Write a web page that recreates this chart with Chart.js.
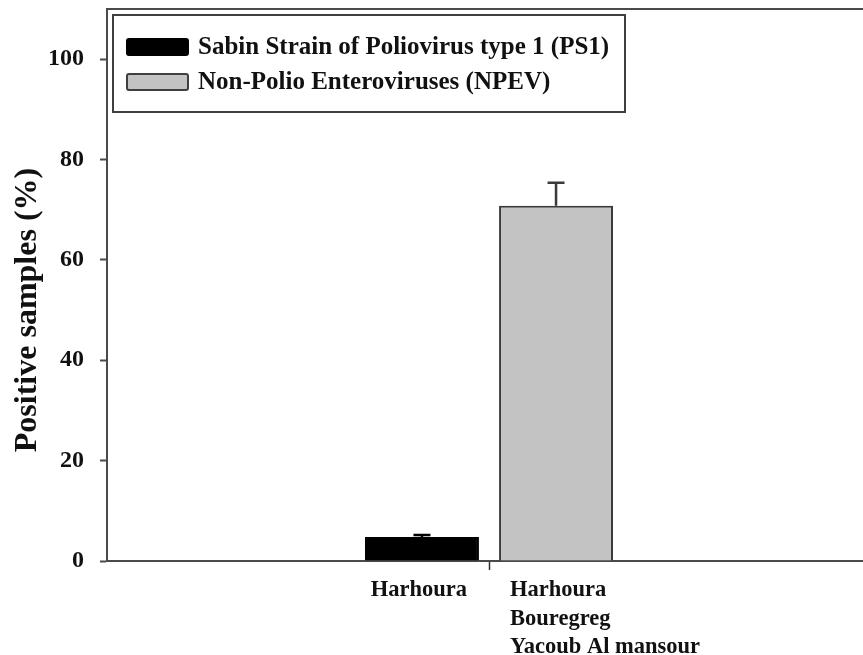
<!DOCTYPE html>
<html>
<head>
<meta charset="utf-8">
<script src="https://cdn.jsdelivr.net/npm/chart.js@4/dist/chart.umd.min.js"></script>
<style>
html,body{margin:0;padding:0;background:#fff;overflow:hidden;width:863px;height:655px;}
#wrap{position:relative;width:880px;height:655px;}
</style>
</head>
<body>
<div id="wrap"><canvas id="c" width="880" height="655"></canvas></div>
<script>
// ---- data ----
const categories = ['Sites'];
const seriesNames = ['Sabin Strain of Poliovirus type 1 (PS1)', 'Non-Polio Enteroviruses (NPEV)'];
const ps1Values = [4.8];
const ps1Errors = [0.4];
const npevValues = [70.8];
const npevErrors = [4.6];
const barLabels = [['Harhoura'], ['Harhoura', 'Bouregreg', 'Yacoub Al mansour']];
const yTicks = [0, 20, 40, 60, 80, 100];
const yTitle = 'Positive samples (%)';

const SERIF = "'Liberation Serif', 'Times New Roman', serif";
const AXIS = '#4a4a4a';
const errorSets = [ps1Errors, npevErrors];

const errorBars = {
  id: 'errorBars',
  afterDatasetsDraw(chart) {
    const ctx = chart.ctx, y = chart.scales.y;
    chart.data.datasets.forEach((ds, di) => {
      const meta = chart.getDatasetMeta(di);
      meta.data.forEach((bar, i) => {
        const v = ds.data[i], e = errorSets[di][i];
        const top = y.getPixelForValue(v + e);
        ctx.save();
        ctx.strokeStyle = di === 0 ? '#000' : '#3a3a3a';
        ctx.lineWidth = 2.5;
        ctx.beginPath();
        ctx.moveTo(bar.x, bar.y);
        ctx.lineTo(bar.x, top);
        ctx.moveTo(bar.x - 8.5, top);
        ctx.lineTo(bar.x + 8.5, top);
        ctx.stroke();
        ctx.restore();
      });
    });
  }
};

const frameAndLabels = {
  id: 'frameAndLabels',
  afterDraw(chart) {
    const ctx = chart.ctx, ca = chart.chartArea;
    ctx.save();
    // top frame line
    ctx.strokeStyle = AXIS;
    ctx.lineWidth = 2;
    ctx.beginPath();
    ctx.moveTo(ca.left, ca.top);
    ctx.lineTo(ca.right, ca.top);
    ctx.stroke();
    // y axis title
    ctx.save();
    ctx.translate(28, ca.bottom - 251);
    ctx.rotate(-Math.PI / 2);
    ctx.fillStyle = '#111';
    ctx.font = 'bold 32px ' + SERIF;
    ctx.textAlign = 'center';
    ctx.textBaseline = 'middle';
    ctx.fillText(yTitle, 0, 0);
    ctx.restore();
    // bar labels under the x axis
    ctx.fillStyle = '#111';
    ctx.font = 'bold 22.5px ' + SERIF;
    ctx.textBaseline = 'alphabetic';
    chart.data.datasets.forEach((ds, di) => {
      const bar = chart.getDatasetMeta(di).data[0];
      const lines = barLabels[di];
      lines.forEach((t, li) => {
        const yy = ca.bottom + 35 + li * 28.5;
        if (di === 0) {
          ctx.textAlign = 'center';
          ctx.fillText(t, bar.x - 3, yy);
        } else {
          ctx.textAlign = 'left';
          ctx.fillText(t, bar.x - bar.width / 2 + 11, yy);
        }
      });
    });
    // legend box
    const lx = ca.left + 6, ly = ca.top + 6, lw = 512, lh = 97;
    ctx.fillStyle = '#fff';
    ctx.fillRect(lx, ly, lw, lh);
    ctx.strokeStyle = '#3f3f3f';
    ctx.lineWidth = 2;
    ctx.strokeRect(lx, ly, lw, lh);
    ctx.font = 'bold 25px ' + SERIF;
    ctx.textAlign = 'left';
    ctx.textBaseline = 'middle';
    chart.data.datasets.forEach((ds, di) => {
      const sy = ly + 32 + di * 35;
      ctx.fillStyle = ds.backgroundColor;
      ctx.strokeStyle = di === 0 ? '#000' : '#3f3f3f';
      ctx.lineWidth = 2;
      ctx.beginPath();
      ctx.roundRect(lx + 14, sy - 8, 61, 16, 2);
      ctx.fill();
      ctx.stroke();
      ctx.fillStyle = '#111';
      ctx.fillText(ds.label, lx + 85, sy + 1);
    });
    ctx.restore();
  }
};

new Chart(document.getElementById('c'), {
  type: 'bar',
  data: {
    labels: categories,
    datasets: [
      { label: seriesNames[0], data: ps1Values, backgroundColor: '#000000', borderColor: '#000000', borderWidth: 2 },
      { label: seriesNames[1], data: npevValues, backgroundColor: '#c3c3c3', borderColor: '#3a3a3a', borderWidth: 2 }
    ]
  },
  options: {
    responsive: false,
    animation: false,
    layout: { padding: { top: 9, right: 9, left: 0, bottom: 0 } },
    datasets: { bar: { categoryPercentage: 0.351, barPercentage: 0.85 } },
    plugins: { legend: { display: false }, tooltip: { enabled: false } },
    scales: {
      x: {
        grid: { display: true, drawOnChartArea: false, offset: false, tickLength: 9, tickWidth: 1.5, tickColor: '#333' },
        border: { color: AXIS, width: 2 },
        ticks: { callback: () => '' },
        afterFit(s) { s.height = 94; s.paddingLeft = 0; s.paddingRight = 0; }
      },
      y: {
        min: 0, max: 110,
        afterBuildTicks(s) { s.ticks = yTicks.map(v => ({ value: v })); },
        grid: { drawOnChartArea: false, tickLength: 7, tickWidth: 2, tickColor: AXIS },
        border: { color: AXIS, width: 2 },
        ticks: { color: '#111', padding: 16, font: { family: SERIF, size: 24, weight: 'bold' } },
        title: { display: false },
        afterFit(s) { s.width = 107; s.paddingTop = 0; s.paddingBottom = 0; }
      }
    }
  },
  plugins: [errorBars, frameAndLabels]
});
</script>
</body>
</html>
